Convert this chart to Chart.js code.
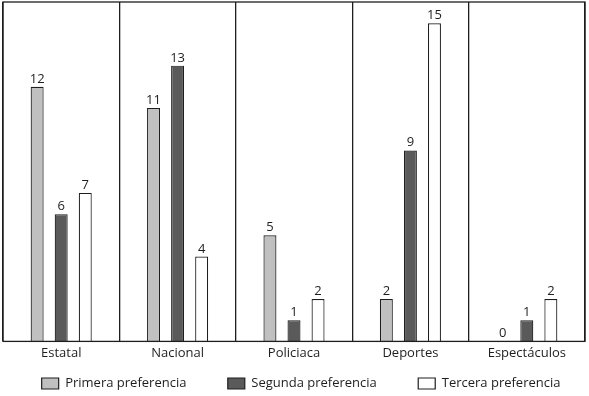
<!DOCTYPE html>
<html>
<head>
<meta charset="utf-8">
<script src="https://cdn.jsdelivr.net/npm/chart.js@4/dist/chart.umd.min.js"></script>
<style>
  html, body { margin: 0; padding: 0; background: #fff; }
  #chart { display: block; }
</style>
</head>
<body>
<canvas id="chart" width="589" height="396"></canvas>
<script>
// categorias del eje x
const categories = ['Estatal', 'Nacional', 'Policiaca', 'Deportes', 'Espectáculos']
// valores por preferencia
const primera = [12, 11, 5, 2, 0]
const segunda = [6, 13, 1, 9, 1]
const tercera = [7, 4, 2, 15, 2]
const seriesNames = ['Primera preferencia', 'Segunda preferencia', 'Tercera preferencia']

const FONT = '"Open Sans", sans-serif'
const INK = '#1e1e1e'

// marco alrededor del area del grafico
const frame = {
    id: 'frame',
    afterDraw(chart) {
        const { ctx, chartArea: a } = chart
        ctx.save()
        ctx.strokeStyle = INK
        ctx.lineWidth = 1.3
        ctx.strokeRect(a.left, a.top, a.right - a.left, a.bottom - a.top)
        ctx.restore()
    }
}

// etiquetas con el valor arriba de cada barra
const valueLabels = {
    id: 'valueLabels',
    afterDatasetsDraw(chart) {
        const ctx = chart.ctx
        ctx.save()
        ctx.font = '13px ' + FONT
        ctx.fillStyle = INK
        ctx.textAlign = 'center'
        ctx.textBaseline = 'alphabetic'
        chart.data.datasets.forEach((ds, i) => {
            chart.getDatasetMeta(i).data.forEach((bar, j) => {
                ctx.fillText(ds.data[j], bar.x, bar.y - 4)
            })
        })
        ctx.restore()
    }
}

// espacio extra entre los items de la leyenda (sin tocar el alto)
const gap = '\u00a0'.repeat(9)
const tail = '\u00a0'.repeat(4)

new Chart(document.getElementById('chart'), {
    type: 'bar',
    data: {
        labels: categories,
        datasets: [{
            label: seriesNames[0],
            data: primera,
            backgroundColor: '#c0c0c0',
            borderColor: INK,
            borderWidth: 1.2
        }, {
            label: seriesNames[1],
            data: segunda,
            backgroundColor: '#5a5a5a',
            borderColor: INK,
            borderWidth: 1.2
        }, {
            label: seriesNames[2],
            data: tercera,
            backgroundColor: '#ffffff',
            borderColor: INK,
            borderWidth: 1.2
        }]
    },
    options: {
        responsive: false,
        animation: false,
        categoryPercentage: 0.62,
        barPercentage: 0.54,
        layout: { padding: { left: 3, right: 4, top: 2, bottom: 0 } },
        scales: {
            x: {
                grid: { color: INK, lineWidth: 1.3, drawTicks: false, offset: true },
                border: { display: false },
                ticks: { color: INK, font: { family: FONT, size: 13 }, padding: 4.5 }
            },
            y: {
                display: false,
                min: 0,
                max: 16
            }
        },
        plugins: {
            legend: {
                position: 'bottom',
                align: 'end',
                maxHeight: 30,
                labels: {
                    color: INK,
                    font: { family: FONT, size: 13 },
                    boxWidth: 17,
                    boxHeight: 11,
                    padding: 11,
                    generateLabels(chart) {
                        const items = Chart.defaults.plugins.legend.labels.generateLabels(chart)
                        items.forEach((it, i) => {
                            it.lineWidth = 1.2
                            it.text = it.text + (i < items.length - 1 ? gap : tail)
                        })
                        return items
                    }
                }
            },
            tooltip: { enabled: false }
        }
    },
    plugins: [frame, valueLabels]
})
</script>
</body>
</html>
